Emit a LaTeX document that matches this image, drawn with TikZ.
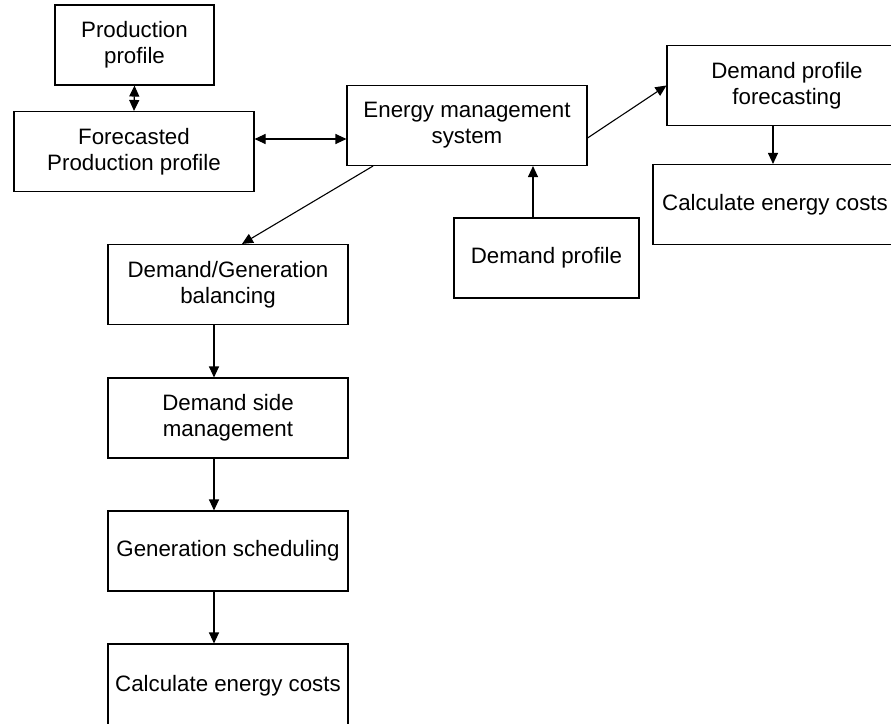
\documentclass[tikz,border=0pt]{standalone}
\usepackage{fontspec}
\setmainfont{Liberation Sans}
\usetikzlibrary{arrows.meta,calc}
\begin{document}
\begin{tikzpicture}[x=1pt,y=-1pt,
  box/.style={draw,line width=1.1pt,rectangle,inner sep=0pt,align=center,
    minimum width=240pt,minimum height=80pt,font=\fontsize{22.3}{26}\selectfont},
  tip/.tip={Triangle[length=11pt,width=10pt]},
  link/.style={line width=1.1pt,-tip},
  dlink/.style={line width=1.1pt,tip-tip}]
\useasboundingbox (0,0) rectangle (891,723);
\clip (0,0) rectangle (891,723);
% upper-left production nodes
\node[box,minimum width=159pt] (prod) at (134.5,45) {Production\\profile};
\node[box] (fore) at (134,151.5) {Forecasted\\Production profile};
% central controller
\node[box] (ems) at (467,125.5) {Energy management\\system};
% demand side on the right
\node[box] (dpf) at (787,85.5) {Demand profile\\forecasting};
\node[box,minimum width=244pt] (cec1) at (775,204.5) {Calculate energy costs};
\node[box,minimum width=185pt] (dp) at (546.5,258) {Demand profile};
% left processing chain
\node[box] (bal) at (228,284.5) {Demand/Generation\\balancing};
\node[box] (dsm) at (228,418) {Demand side\\management};
\node[box] (gs) at (228,551) {Generation scheduling};
\node[box,minimum height=84pt] (cec2) at (228,686) {Calculate energy costs};
% connector anchor points
\coordinate (h1) at (0,139);
\coordinate (dpa) at ([xshift=-13.5pt]dp.north);
\coordinate (dfa) at (773,0);
% connectors
\draw[dlink] (prod.south) -- (fore.north);
\draw[dlink] (fore.east |- h1) -- (ems.west |- h1);
\draw[link] ([xshift=-94pt]ems.south) -- ([xshift=14pt]bal.north);
\draw[link] ([yshift=-12.5pt]ems.east) -- (dpf.west);
\draw[link] (dpf.south -| dfa) -- (cec1.north -| dfa);
\draw[link] (dpa) -- (ems.south -| dpa);
\draw[link] ([xshift=-14pt]bal.south) -- ([xshift=-14pt]dsm.north);
\draw[link] ([xshift=-14pt]dsm.south) -- ([xshift=-14pt]gs.north);
\draw[link] ([xshift=-14pt]gs.south) -- ([xshift=-14pt]cec2.north);
\end{tikzpicture}
\end{document}
